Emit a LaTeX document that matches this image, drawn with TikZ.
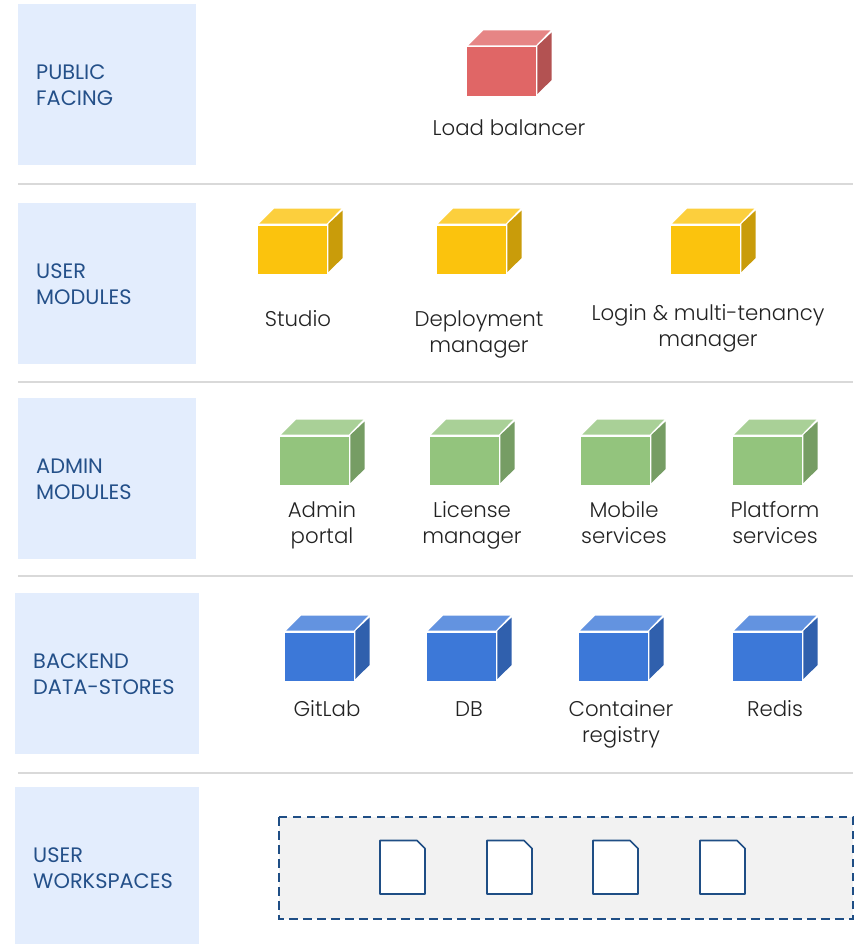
\documentclass[tikz,border=0pt]{standalone}
\usepackage{fontspec}
\setmainfont{Poppins Light}
\newfontfamily\labfont{Poppins}
\definecolor{panel}{HTML}{E3EDFD}
\definecolor{rule}{HTML}{D9D9D9}
\definecolor{navy}{HTML}{1F4E85}
\definecolor{labelc}{HTML}{245089}
\definecolor{txt}{HTML}{222222}
\definecolor{dashfill}{HTML}{F2F2F2}
\tikzset{
  x=1pt,y=-1pt,
  panelbox/.style={fill=panel,draw=none},
  sep/.style={draw=rule,line width=1.5pt},
  lab/.style={text=labelc,font=\labfont\fontsize{20.9}{26}\selectfont,align=left,anchor=west,inner sep=0pt},
  mlabel/.style={text=txt,font=\fontsize{21.3}{26}\selectfont,align=center,inner sep=0pt},
  docbox/.style={draw=navy,fill=white,line width=1.7pt,line join=round},
  wsbox/.style={draw=navy,fill=dashfill,line width=1.9pt,dash pattern=on 8.5pt off 5.5pt},
}
\newcommand{\cube}[4]{% name, x, y, colour
  \coordinate (#1) at (#2,#3);
  \fill[#4] (#2+0.3,#3+0.5) rectangle ++(68.5,48.5);
  \fill[#4!80!white] (#2+1.3,#3-1.5) -- ++(15,-15) -- ++(67,0) -- ++(-14.5,15) -- cycle;
  \fill[#4!80!black] (#2+70.3,#3-1) -- ++(14.3,-13.5) -- ++(0,47.5) -- ++(-14.3,14) -- cycle;
}
\newcommand{\doc}[2]{%
  \draw[docbox] (#2,840.5) -- ++(37,0) -- ++(8,8) -- (#2+45,894) -- (#2,894) -- cycle;
}
\definecolor{cred}{HTML}{E06666}
\definecolor{cyel}{HTML}{FBC30D}
\definecolor{cgrn}{HTML}{93C47D}
\definecolor{cblu}{HTML}{3C78D8}
\begin{document}
\begin{tikzpicture}
\useasboundingbox (0,0) rectangle (864,944);
\fill[panelbox] (18,4) rectangle (196,165);
\fill[panelbox] (18,203) rectangle (196,364);
\fill[panelbox] (18,398) rectangle (196,559);
\fill[panelbox] (15,593) rectangle (199,754);
\fill[panelbox] (15,787) rectangle (199,944);
\draw[sep] (18,184) -- (853,184);
\draw[sep] (18,382) -- (853,382);
\draw[sep] (18,576) -- (853,576);
\draw[sep] (18,773) -- (853,773);
\node[lab] (l1) at (36,87) {\strut PUBLIC\\\strut FACING};
\node[lab] (l2) at (36,286) {\strut USER\\\strut MODULES};
\node[lab] (l3) at (36,481) {\strut ADMIN\\\strut MODULES};
\node[lab] (l4) at (33,676) {\strut BACKEND\\\strut DATA-STORES};
\node[lab] (l5) at (33,870) {\strut USER\\\strut WORKSPACES};
\cube{c1}{467}{47}{cred}
\cube{c2}{258}{225}{cyel}
\cube{c3}{437}{225}{cyel}
\cube{c4}{671}{225}{cyel}
\cube{c5}{280}{436}{cgrn}
\cube{c6}{430}{436}{cgrn}
\cube{c7}{581}{436}{cgrn}
\cube{c8}{733}{436}{cgrn}
\cube{c9}{285}{632}{cblu}
\cube{c10}{427}{632}{cblu}
\cube{c11}{579}{632}{cblu}
\cube{c12}{733}{632}{cblu}
\node[mlabel] (t1) at (509,130) {\strut Load balancer};
\node[mlabel] (t2) at (298,321) {\strut Studio};
\node[mlabel] (t3) at (479,334) {\strut Deployment\\\strut manager};
\node[mlabel] (t4) at (708,328) {\strut Login \& multi-tenancy\\\strut manager};
\node[mlabel] (t5) at (322,525) {\strut Admin\\\strut portal};
\node[mlabel] (t6) at (472,525) {\strut License\\\strut manager};
\node[mlabel] (t7) at (624,525) {\strut Mobile\\\strut services};
\node[mlabel] (t8) at (775,525) {\strut Platform\\\strut services};
\node[mlabel] (t9) at (327,711) {\strut GitLab};
\node[mlabel] (t10) at (469,711) {\strut DB};
\node[mlabel] (t11) at (621,724) {\strut Container\\\strut registry};
\node[mlabel] (t12) at (775,711) {\strut Redis};
\draw[wsbox] (279,817) rectangle (853,919);
\doc{d1}{380}
\doc{d2}{487}
\doc{d3}{593}
\doc{d4}{700}
\end{tikzpicture}
\end{document}
